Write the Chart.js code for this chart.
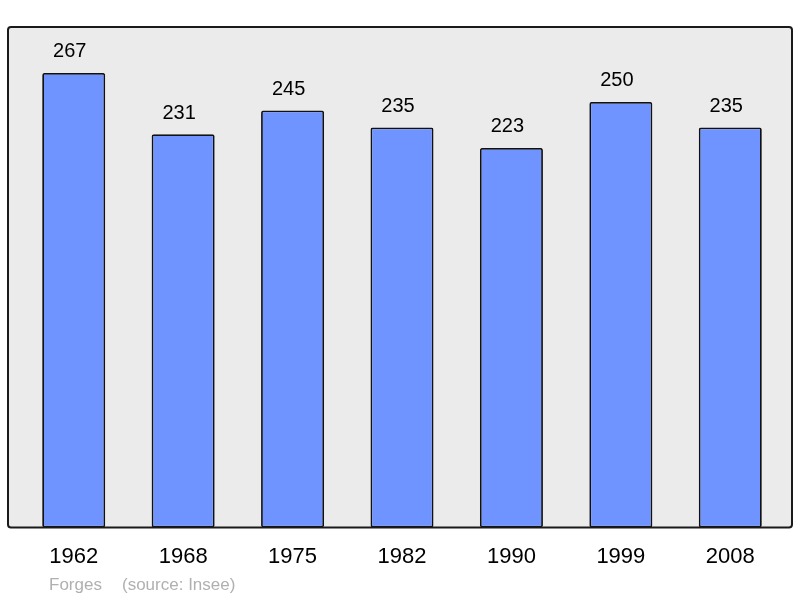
<!DOCTYPE html>
<html>
<head>
<meta charset="utf-8">
<script src="https://cdn.jsdelivr.net/npm/chart.js@4.4.0/dist/chart.umd.min.js"></script>
<style>
  html, body { margin: 0; padding: 0; background: #fff; }
  #wrap { width: 800px; height: 598px; }
</style>
</head>
<body>
<div id="wrap"><canvas id="chart" width="800" height="598"></canvas></div>
<script>
const years = ['1962', '1968', '1975', '1982', '1990', '1999', '2008'];
const population = [267, 231, 245, 235, 223, 250, 235];
const townName = 'Forges';
const sourceText = '(source: Insee)';

const FONT = '"Liberation Sans", Arial, sans-serif';

// grey rounded frame behind the bars
const framePlugin = {
    id: 'frame',
    beforeDraw(chart) {
        const { ctx, chartArea } = chart;
        const x = chartArea.left - 11;
        const y = chartArea.top;
        const w = chartArea.width + 18;
        const h = chartArea.bottom - chartArea.top;
        ctx.save();
        ctx.beginPath();
        ctx.roundRect(x, y, w, h, 3);
        ctx.fillStyle = '#ebebeb';
        ctx.fill();
        ctx.restore();
    },
    afterDatasetsDraw(chart) {
        const { ctx, chartArea } = chart;
        const x = chartArea.left - 11;
        const y = chartArea.top;
        const w = chartArea.width + 18;
        const h = chartArea.bottom - chartArea.top;
        ctx.save();
        ctx.beginPath();
        ctx.roundRect(x, y, w, h, 3);
        ctx.lineWidth = 2;
        ctx.strokeStyle = '#1a1a1a';
        ctx.stroke();
        ctx.restore();
    }
};

// value above each bar + footer text
const labelPlugin = {
    id: 'labels',
    afterDraw(chart) {
        const { ctx } = chart;
        const meta = chart.getDatasetMeta(0);
        ctx.save();
        ctx.fillStyle = '#000';
        ctx.font = '20px ' + FONT;
        ctx.textAlign = 'center';
        ctx.textBaseline = 'middle';
        meta.data.forEach((bar, i) => {
            ctx.fillText(String(population[i]), bar.x - 4, bar.y - 21);
        });
        ctx.font = '17px ' + FONT;
        ctx.fillStyle = '#b0b0b0';
        ctx.textAlign = 'left';
        ctx.fillText(townName, 49, 585);
        ctx.fillText(sourceText, 122, 585);
        ctx.restore();
    }
};

new Chart(document.getElementById('chart'), {
    type: 'bar',
    data: {
        labels: years,
        datasets: [{
            data: population,
            backgroundColor: '#7094ff',
            borderColor: '#111',
            borderWidth: 1.8,
            borderRadius: 2,
            borderSkipped: false,
            categoryPercentage: 1,
            barPercentage: 0.576
        }]
    },
    options: {
        responsive: false,
        animation: false,
        layout: { padding: { left: 19, right: 15, top: 27, bottom: 12 } },
        plugins: {
            legend: { display: false },
            tooltip: { enabled: false }
        },
        scales: {
            x: {
                grid: { display: false, drawTicks: false },
                border: { display: false },
                ticks: {
                    color: '#000',
                    padding: 16,
                    font: { family: FONT, size: 22 }
                }
            },
            y: {
                display: false,
                min: 0,
                max: 294
            }
        }
    },
    plugins: [framePlugin, labelPlugin]
});
</script>
</body>
</html>
